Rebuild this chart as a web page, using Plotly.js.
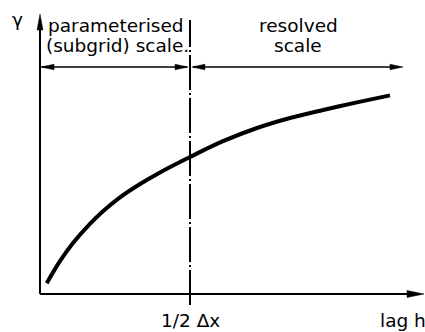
<!DOCTYPE html>
<html>
<head>
<meta charset="utf-8">
<script src="https://cdn.plot.ly/plotly-3.0.1.min.js"></script>
<style>
  html, body { margin: 0; padding: 0; background: #ffffff; }
  #chart { width: 425px; height: 332px; }
</style>
</head>
<body>
<div id="chart"></div>
<script>
// Semivariogram sketch: gamma(h) against lag h, split at half the grid spacing
const lagH  = [0.045, 0.133, 0.220, 0.333, 0.420, 0.520, 0.667, 0.800, 1.000, 1.220, 1.447, 1.667, 1.887, 2.113, 2.333];
const gamma = [0.054, 0.164, 0.255, 0.351, 0.414, 0.476, 0.550, 0.608, 0.685, 0.764, 0.830, 0.880, 0.920, 0.958, 0.993];

const halfDx = 1.0;          // 1/2 Δx on the lag axis
const resolvedEnd = 2.42;    // right end of the "resolved scale" span
const spanLevel = 1.135;     // height of the scale-span arrows
const xAxisEnd = 2.56;
const yAxisEnd = 1.40;

const labels = {
  yTitle: 'γ',
  xTitle: 'lag h',
  halfDx: '1/2 Δx',
  subgrid: ['parameterised', '(subgrid) scale.'],
  resolved: ['resolved', 'scale']
};

const ink = '#000000';
const font = { family: 'DejaVu Sans, Arial, sans-serif', size: 18.5, color: ink };

// filled arrow head anchored at a data point, drawn in pixel offsets
function head(x, y, dir, len, half) {
  let p;
  if (dir === 'up')    p = `M0,0 L${-half},${-len} L${half},${-len} Z`;
  if (dir === 'right') p = `M0,0 L${-len},${half} L${-len},${-half} Z`;
  if (dir === 'left')  p = `M0,0 L${len},${half} L${len},${-half} Z`;
  return {
    type: 'path', xref: 'x', yref: 'y',
    xsizemode: 'pixel', ysizemode: 'pixel',
    xanchor: x, yanchor: y, path: p,
    fillcolor: ink, line: { color: ink, width: 0.5 }
  };
}

function seg(x0, y0, x1, y1, width, dash) {
  return {
    type: 'line', xref: 'x', yref: 'y', x0: x0, y0: y0, x1: x1, y1: y1,
    line: { color: ink, width: width, dash: dash || 'solid' }
  };
}

const shapes = [
  // axes
  seg(0, 0, 0, yAxisEnd - 0.05, 2),
  head(0, yAxisEnd, 'up', 16, 3),
  seg(0, 0, xAxisEnd - 0.06, 0, 2),
  head(xAxisEnd, 0, 'right', 17, 3.5),
  // boundary at half the grid spacing
  seg(halfDx, -0.055, halfDx, 1.37, 2, '35px,3px,2px,3px'),
  // parameterised span
  seg(0.01, spanLevel, halfDx - 0.02, spanLevel, 1.6),
  head(0.007, spanLevel, 'left', 13, 2.8),
  head(halfDx - 0.013, spanLevel, 'right', 13, 2.8),
  // resolved span
  seg(halfDx + 0.02, spanLevel, resolvedEnd - 0.03, spanLevel, 1.6),
  head(halfDx + 0.013, spanLevel, 'left', 13, 2.8),
  head(resolvedEnd, spanLevel, 'right', 13, 2.8)
];

function note(text, x, y, xanchor, xref, yref) {
  return {
    text: text, x: x, y: y, xref: xref || 'paper', yref: yref || 'paper',
    xanchor: xanchor, yanchor: 'middle', showarrow: false, font: font
  };
}

const W = 425, H = 332;
const px = v => v / W;
const py = v => 1 - v / H;

const annotations = [
  note(labels.yTitle, px(17), py(19), 'center'),
  note(labels.subgrid[0], px(46), py(26), 'left'),
  note(labels.subgrid[1], px(44), py(45), 'left'),
  note(labels.resolved[0], px(298), py(26), 'center'),
  note(labels.resolved[1], px(298), py(45), 'center'),
  note(labels.halfDx, halfDx, py(320), 'center', 'x', 'paper'),
  note(labels.xTitle, px(378), py(320), 'left')
];

const trace = {
  x: lagH, y: gamma, type: 'scatter', mode: 'lines',
  line: { color: ink, width: 4, shape: 'spline', smoothing: 1 },
  hoverinfo: 'skip'
};

const layout = {
  width: W, height: H,
  margin: { l: 0, r: 0, t: 0, b: 0, pad: 0 },
  paper_bgcolor: '#ffffff', plot_bgcolor: '#ffffff',
  showlegend: false,
  xaxis: { range: [-40 / 150, 385 / 150], visible: false, fixedrange: true },
  yaxis: { range: [-38 / 200, 294 / 200], visible: false, fixedrange: true },
  shapes: shapes,
  annotations: annotations,
  font: font
};

Plotly.newPlot('chart', [trace], layout, { displayModeBar: false, staticPlot: true });
</script>
</body>
</html>
